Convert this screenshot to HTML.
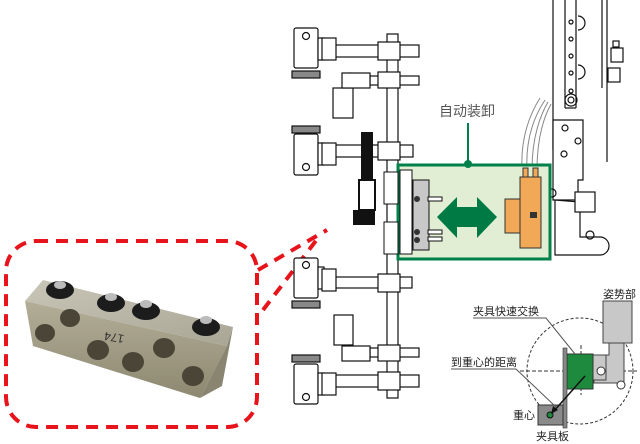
<!DOCTYPE html>
<html><head><meta charset="utf-8"><style>
html,body{margin:0;padding:0;background:#fff;}
svg{display:block;}
text{font-family:"Liberation Sans","Noto Sans CJK SC",sans-serif;}
</style></head><body>
<svg width="640" height="444" viewBox="0 0 640 444" xmlns="http://www.w3.org/2000/svg">
<defs>
<linearGradient id="mt" x1="0" y1="0" x2="1" y2="1"><stop offset="0" stop-color="#c9c6b8"/><stop offset="1" stop-color="#a9a695"/></linearGradient>
<linearGradient id="mf" x1="0" y1="0" x2="0" y2="1"><stop offset="0" stop-color="#b3ae98"/><stop offset="1" stop-color="#8d8870"/></linearGradient>
</defs>
<!-- red dashed callout -->
<rect x="6" y="241" width="251" height="186" rx="30" fill="none" stroke="#e8141c" stroke-width="4" stroke-dasharray="12,8"/>
<line x1="258" y1="270" x2="327" y2="230" stroke="#e8141c" stroke-width="4" stroke-dasharray="11,8"/>
<line x1="263" y1="310" x2="318" y2="238" stroke="#e8141c" stroke-width="4" stroke-dasharray="11,8"/>
<!-- block photo -->
<polygon points="25,301 43,280 233,327 227,346" fill="url(#mt)"/>
<polygon points="25,301 227,346 200,398 33,346" fill="url(#mf)"/>
<polygon points="227,346 233,327 222,386 200,398" fill="#8a8570"/>
<g fill="#4a4536">
<ellipse cx="45" cy="333" rx="10" ry="9"/><ellipse cx="70" cy="318" rx="10" ry="9"/>
<ellipse cx="98" cy="350" rx="11" ry="10"/><ellipse cx="133" cy="362" rx="11" ry="10"/>
<ellipse cx="164" cy="348" rx="11" ry="10"/><ellipse cx="193" cy="376" rx="11" ry="10"/>
</g>
<text x="100" y="343" font-size="12" fill="#333" transform="rotate(190 112 338)">174</text>
<g fill="#1c1c1c">
<ellipse cx="60" cy="290" rx="14" ry="9"/><ellipse cx="111" cy="303" rx="14" ry="9"/>
<ellipse cx="146" cy="311" rx="14" ry="9"/><ellipse cx="206" cy="327" rx="14" ry="9"/>
</g>
<g fill="#bbb"><ellipse cx="60" cy="285" rx="6" ry="4"/><ellipse cx="111" cy="297" rx="6" ry="4"/><ellipse cx="146" cy="304" rx="6" ry="4"/><ellipse cx="206" cy="320" rx="6" ry="4"/></g>

<!-- mechanical drawing -->
<g stroke="#111" stroke-width="1.2" fill="#fff">
<rect x="387" y="34" width="11" height="364"/>
<!-- arms -->
<rect x="323" y="45" width="96" height="12"/><rect x="378" y="42" width="22" height="18"/>
<rect x="370" y="76" width="49" height="9"/><rect x="378" y="72" width="22" height="16"/>
<rect x="323" y="145" width="90" height="12"/><rect x="378" y="142" width="22" height="18"/>
<rect x="323" y="277" width="89" height="11"/><rect x="378" y="274" width="22" height="18"/>
<rect x="370" y="348" width="49" height="9"/><rect x="378" y="345" width="22" height="16"/>
<rect x="323" y="375" width="96" height="12"/><rect x="378" y="372" width="22" height="18"/>
<!-- units -->
<rect x="294" y="28" width="24" height="40" rx="2"/><circle cx="306" cy="36" r="3.5"/><rect x="318" y="38" width="6" height="22"/><rect x="322" y="38" width="14" height="22"/>
<rect x="292" y="71" width="28" height="7" fill="#888"/>
<rect x="333" y="88" width="20" height="30"/><circle cx="350" cy="80" r="7"/><rect x="342" y="73" width="28" height="15"/>
<rect x="292" y="126" width="28" height="7" fill="#888"/>
<rect x="294" y="134" width="24" height="41" rx="2"/><circle cx="306" cy="167" r="3.5"/><rect x="318" y="143" width="6" height="22"/><rect x="322" y="143" width="14" height="22"/>
<rect x="294" y="258" width="24" height="40" rx="2"/><circle cx="306" cy="265" r="3.5"/><rect x="318" y="267" width="6" height="22"/><rect x="322" y="269" width="14" height="22"/>
<rect x="292" y="301" width="28" height="7" fill="#888"/>
<rect x="334" y="315" width="19" height="30"/><circle cx="350" cy="352" r="7"/><rect x="342" y="346" width="28" height="15"/>
<rect x="292" y="355" width="28" height="7" fill="#888"/>
<rect x="294" y="364" width="24" height="40" rx="2"/><circle cx="306" cy="397" r="3.5"/><rect x="318" y="373" width="6" height="22"/><rect x="322" y="373" width="14" height="22"/>
</g>
<!-- middle black part -->
<rect x="361" y="132" width="12" height="48" fill="#111"/>
<rect x="359" y="180" width="16" height="30" fill="#fff" stroke="#111" stroke-width="2"/>
<rect x="353" y="210" width="22" height="15" fill="#111"/>
<!-- right column -->
<g stroke="#111" stroke-width="1.2" fill="none">
<line x1="553" y1="0" x2="553" y2="150"/><line x1="565" y1="0" x2="565" y2="108"/><line x1="576" y1="0" x2="576" y2="108"/>
<line x1="602" y1="0" x2="602" y2="88"/><line x1="607" y1="0" x2="607" y2="162"/>
<line x1="565" y1="108" x2="576" y2="108"/>
<path d="M578 16 a7 7 0 0 1 0 14 M578 65 a7 7 0 0 1 0 14"/>
<circle cx="571" cy="22" r="2"/><circle cx="571" cy="39" r="2"/><circle cx="571" cy="56" r="2"/><circle cx="571" cy="73" r="2"/><circle cx="571" cy="91" r="2"/>
<circle cx="571" cy="100" r="6"/><circle cx="571" cy="100" r="3"/>
<rect x="611" y="48" width="12" height="14"/><rect x="608" y="68" width="12" height="14"/><rect x="613" y="41" width="6" height="6"/>
<path d="M558 120 h25 v60 h-5 v20 h-25 v-80 z" fill="#fff"/>
<circle cx="565" cy="128" r="3"/><circle cx="578" cy="141" r="3"/><circle cx="564" cy="154" r="3"/>
<path d="M555 200 v55 h45 a8 8 0 0 0 0 -18 h-20 v-35 z" fill="#fff"/>
<circle cx="552" cy="193" r="4"/><circle cx="590" cy="235" r="4"/>
<rect x="575" y="192" width="20" height="20" fill="#fff"/>
</g>
<!-- cables -->
<g stroke="#888" fill="none" stroke-width="1">
<path d="M522 170 q-2 -40 18 -72"/><path d="M527 170 q-2 -40 18 -70"/><path d="M532 170 q0 -40 16 -68"/><path d="M537 170 q0 -40 14 -66"/>
</g>
<!-- green zone -->
<rect x="398" y="165" width="152" height="94" fill="#e1eed3" stroke="#00804a" stroke-width="3"/>
<line x1="468" y1="123" x2="468" y2="164" stroke="#00804a" stroke-width="2"/>
<circle cx="468" cy="164" r="4" fill="#00804a"/>
<text x="467" y="116" font-size="14" fill="#555" text-anchor="middle">自动装卸</text>
<g stroke="#111" stroke-width="1" fill="#fff">
<rect x="384" y="172" width="14" height="32"/><rect x="384" y="222" width="14" height="32"/>
<rect x="400" y="170" width="12" height="84"/>
</g>
<rect x="413" y="180" width="16" height="70" fill="#c8c8c8" stroke="#111"/>
<g stroke="#111" fill="#fff"><rect x="428" y="197" width="14" height="4"/><rect x="428" y="230" width="14" height="4"/><rect x="428" y="237" width="14" height="4"/></g>
<circle cx="417" cy="199" r="3" fill="#333"/><circle cx="417" cy="232" r="3" fill="#333"/><circle cx="417" cy="240" r="3" fill="#333"/>
<polygon points="437,217 457,197 457,207 477,207 477,197 497,217 477,238 477,227 457,227 457,238" fill="#007a44"/>
<rect x="505" y="199" width="15" height="34" fill="#f2a957" stroke="#333"/>
<rect x="520" y="177" width="21" height="71" fill="#f2a957" stroke="#333"/>
<rect x="523" y="168" width="5" height="9" fill="#f2a957" stroke="#333"/><rect x="533" y="168" width="5" height="9" fill="#f2a957" stroke="#333"/>
<rect x="530" y="212" width="7" height="6" fill="#333"/>
<!-- bottom-right diagram -->
<circle cx="580" cy="371" r="53" fill="none" stroke="#333" stroke-dasharray="3,2"/>
<line x1="520" y1="371" x2="637" y2="371" stroke="#333" stroke-dasharray="4,2"/>
<line x1="581" y1="345" x2="581" y2="395" stroke="#333" stroke-dasharray="4,2"/>
<path d="M603 301 h29 v42 h-8 v40 h-30 v-28 h15 v-54 z" fill="#c8c8c8" stroke="#444"/>
<rect x="603" y="301" width="29" height="42" fill="#c8c8c8" stroke="#444"/>
<rect x="593" y="355" width="13" height="25" fill="#c8c8c8" stroke="#444"/>
<circle cx="601" cy="371" r="4" fill="#fff" stroke="#333"/><circle cx="621" cy="385" r="4" fill="#fff" stroke="#333"/>
<rect x="567" y="354" width="26" height="35" fill="#1e8a3e" stroke="#333"/>
<rect x="563" y="348" width="4" height="80" fill="#888" stroke="#333" stroke-width=".6"/>
<rect x="538" y="405" width="25" height="20" fill="#8a8a8a" stroke="#333"/>
<circle cx="550" cy="415" r="3" fill="#1e8a3e" stroke="#111"/>
<line x1="585" y1="376" x2="553" y2="412" stroke="#111" stroke-width="1.5"/>
<polygon points="551,414 553,406 558,410" fill="#111"/>
<g stroke="#555" fill="none" stroke-width="1">
<path d="M473 318 h73 l29 36"/>
<path d="M451 369 h65 l40 38"/>
</g>
<g font-size="11" fill="#222">
<text x="473" y="315">夹具快速交换</text>
<text x="451" y="366">到重心的距离</text>
<text x="513" y="419">重心</text>
<text x="536" y="440">夹具板</text>
<text x="603" y="298">姿势部</text>
</g>
</svg>
</body></html>
